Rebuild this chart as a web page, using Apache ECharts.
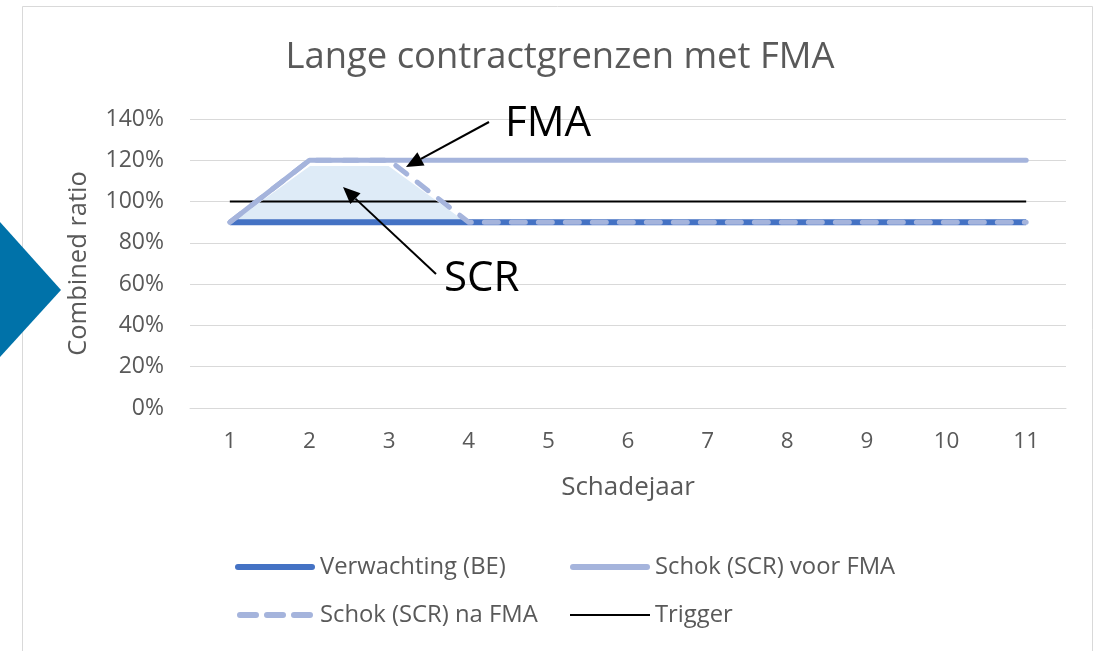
<!DOCTYPE html>
<html>
<head>
<meta charset="utf-8">
<title>Lange contractgrenzen met FMA</title>
<script src="https://cdn.jsdelivr.net/npm/echarts@6/dist/echarts.min.js"></script>
<style>
  html, body { margin: 0; padding: 0; background: #fff; }
  #mychart { width: 1102px; height: 651px; }
</style>
</head>
<body>
<div id="mychart"></div>
<script>
// x-as: schadejaren
var categories = ['1', '2', '3', '4', '5', '6', '7', '8', '9', '10', '11'];
// combined ratio in %
var beData = [90, 90, 90, 90, 90, 90, 90, 90, 90, 90, 90];
var voorFmaData = [90, 120, 120, 120, 120, 120, 120, 120, 120, 120, 120];
var naFmaData = [90, 120, 120, 90, 90, 90, 90, 90, 90, 90, 90];
var triggerData = [100, 100, 100, 100, 100, 100, 100, 100, 100, 100, 100];
// SCR-vlak: onderkant en hoogte erboven
var scrBase = [90, 90, 90, 90];
var scrHeight = [0, 28, 28, 0];
var yTicks = [0, 20, 40, 60, 80, 100, 120, 140];

var font = '"Open Sans", "Noto Sans", sans-serif';
var grey = '#595959';
var lightBlue = '#a5b4dc';

// legenda-iconen
var pillIcon = 'path://M3,0h74a3,3 0 0 1 0,6h-74a3,3 0 0 1 0,-6z';
var dashIcon = 'path://M3,0h16a3,3 0 0 1 0,6h-16a3,3 0 0 1 0,-6z' +
  'M30,0h16a3,3 0 0 1 0,6h-16a3,3 0 0 1 0,-6z' +
  'M57,0h16a3,3 0 0 1 0,6h-16a3,3 0 0 1 0,-6z';

var mychart = echarts.init(document.getElementById('mychart'));

function legendAt(name, icon, h, left, top) {
  return {
    data: [{ name: name, icon: icon }],
    left: left,
    top: top,
    padding: 0,
    itemWidth: 80,
    itemHeight: h,
    itemGap: 0,
    textStyle: { fontFamily: font, fontSize: 23.8, color: grey },
    selectedMode: false
  };
}

// pijl met driehoekige punt
function arrow(x1, y1, x2, y2) {
  var dx = x2 - x1, dy = y2 - y1;
  var len = Math.sqrt(dx * dx + dy * dy);
  var ux = dx / len, uy = dy / len;
  var hl = 17, hw = 7.5;
  var bx = x2 - ux * hl, by = y2 - uy * hl;
  return [
    { type: 'line', shape: { x1: x1, y1: y1, x2: bx, y2: by }, style: { stroke: '#000', lineWidth: 2 }, z: 100 },
    { type: 'polygon', shape: { points: [[x2, y2], [bx - uy * hw, by + ux * hw], [bx + uy * hw, by - ux * hw]] }, style: { fill: '#000' }, z: 100 }
  ];
}

var options = {
  backgroundColor: '#fff',
  animation: false,
  title: {
    text: 'Lange contractgrenzen met FMA',
    left: 555,
    textAlign: 'center',
    top: 35,
    textStyle: { fontFamily: font, fontSize: 36.4, fontWeight: 'normal', color: grey }
  },
  legend: [
    legendAt('Verwachting (BE)', pillIcon, 6, 235, 555),
    legendAt('Schok (SCR) voor FMA', pillIcon, 6, 570, 555),
    legendAt('Schok (SCR) na FMA', dashIcon, 6, 237, 603),
    legendAt('Trigger', 'rect', 2, 570, 603)
  ],
  grid: { left: 190, right: 36, top: 119, bottom: 243 },
  xAxis: {
    type: 'category',
    data: categories,
    boundaryGap: true,
    name: 'Schadejaar',
    nameLocation: 'middle',
    nameGap: 67,
    nameTextStyle: { fontFamily: font, fontSize: 26, color: grey },
    axisLine: { lineStyle: { color: '#d9d9d9' } },
    axisTick: { show: false },
    axisLabel: { fontFamily: font, fontSize: 22.5, color: grey, margin: 22 }
  },
  yAxis: {
    type: 'value',
    min: yTicks[0],
    max: yTicks[yTicks.length - 1],
    interval: 20,
    name: 'Combined ratio',
    nameLocation: 'middle',
    nameGap: 98,
    nameTextStyle: { fontFamily: font, fontSize: 25.5, color: grey },
    axisLine: { show: false },
    axisTick: { show: false },
    axisLabel: { fontFamily: font, fontSize: 23, color: grey, margin: 26, formatter: '{value}%' },
    splitLine: { lineStyle: { color: '#d9d9d9', width: 1 } }
  },
  series: [
    {
      name: 'Trigger',
      type: 'line',
      data: triggerData,
      symbol: 'none',
      lineStyle: { color: '#000', width: 2 },
      itemStyle: { color: '#000' }
    },
    {
      name: 'scrBase',
      type: 'line',
      stack: 'scr',
      data: scrBase,
      symbol: 'none',
      silent: true,
      lineStyle: { opacity: 0 }
    },
    {
      name: 'SCR',
      type: 'line',
      stack: 'scr',
      data: scrHeight,
      symbol: 'none',
      silent: true,
      lineStyle: { color: '#fff', width: 3 },
      areaStyle: { color: '#deebf7', opacity: 1 }
    },
    {
      name: 'Verwachting (BE)',
      type: 'line',
      data: beData,
      symbol: 'none',
      lineStyle: { color: '#4472c4', width: 6 },
      itemStyle: { color: '#4472c4' }
    },
    {
      name: 'Schok (SCR) voor FMA',
      type: 'line',
      data: voorFmaData,
      symbol: 'none',
      lineStyle: { color: lightBlue, width: 5, cap: 'round', join: 'round' },
      itemStyle: { color: lightBlue }
    },
    {
      name: 'Schok (SCR) na FMA',
      type: 'line',
      data: naFmaData,
      symbol: 'none',
      lineStyle: { color: lightBlue, width: 5, type: [14, 13], cap: 'round', join: 'round' },
      itemStyle: { color: lightBlue }
    }
  ],
  graphic: [
    // rand van het kader
    { type: 'rect', shape: { x: 22.5, y: 6.5, width: 1070, height: 700 }, style: { fill: 'none', stroke: '#d9d9d9', lineWidth: 1 }, z: -10 },
    // blauwe driehoek links
    { type: 'polygon', shape: { points: [[0, 222], [61, 290], [0, 357]] }, style: { fill: '#0072a9' }, z: 100 },
    { type: 'text', x: 505, y: 124, style: { text: 'FMA', fontFamily: font, fontSize: 42, fill: '#000', verticalAlign: 'middle' }, z: 100 },
    { type: 'text', x: 444, y: 279, style: { text: 'SCR', fontFamily: font, fontSize: 42, fill: '#000', verticalAlign: 'middle' }, z: 100 }
  ].concat(arrow(489, 122, 406, 167), arrow(436, 274, 343, 187))
};

mychart.setOption(options);
</script>
</body>
</html>
